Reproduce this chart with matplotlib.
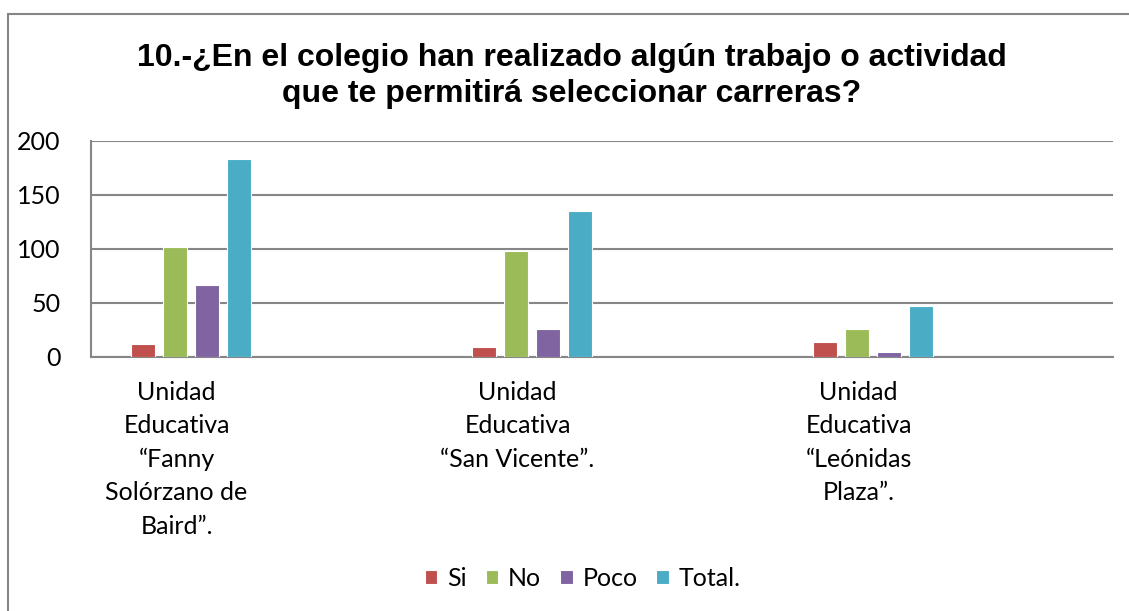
import numpy as np
import matplotlib.pyplot as plt
from matplotlib.patches import Rectangle

# data
categories = ['Unidad\nEducativa\n“Fanny\nSolórzano de\nBaird”.',
              'Unidad\nEducativa\n“San Vicente”.',
              'Unidad\nEducativa\n“Leónidas\nPlaza”.']
series_names = ['Si', 'No', 'Poco', 'Total.']
si = [12, 9, 14]
no = [102, 98, 26]
poco = [67, 26, 5]
total = [183, 135, 47]
colors = ['#C0504D', '#9BBB59', '#8064A2', '#4BACC6']

title = '10.-¿En el colegio han realizado algún trabajo o actividad\nque te permitirá seleccionar carreras?'

plt.rcParams['font.family'] = ['Lato', 'DejaVu Sans']

fig = plt.figure(figsize=(11.29, 6.11), dpi=100)
ax = fig.add_axes([91 / 1129, 1 - 357 / 611, (1113 - 91) / 1129, (357 - 141) / 611])

x = np.arange(len(categories))
step = 0.094
width = 0.070
for i, (vals, name) in enumerate(zip([si, no, poco, total], series_names)):
    ax.bar(x + (i - 1.5) * step, vals, width, color=colors[i], label=name,
           edgecolor='white', linewidth=0.8, zorder=3)

ax.set_xlim(-0.293, 2.704)
ax.set_ylim(0, 200)
ax.set_yticks([0, 50, 100, 150, 200])
ax.grid(axis='y', color='#868686', linewidth=1.5, zorder=0)
ax.tick_params(axis='y', length=0, pad=22, labelsize=18)
ax.tick_params(axis='x', length=0, pad=17, labelsize=18)
ax.set_xticks(x - 0.042)
ax.set_xticklabels(categories, linespacing=1.55, va='top', ha='center')

for s in ['top', 'right']:
    ax.spines[s].set_visible(False)
for s in ['left', 'bottom']:
    ax.spines[s].set_color('#868686')
    ax.spines[s].set_linewidth(1.5)

fig.text(572 / 1129, 1 - 76 / 611, title, ha='center', va='center',
         fontsize=23, fontweight='bold', family='Liberation Sans', linespacing=1.3)

fig.legend(loc='center', bbox_to_anchor=(583 / 1129, 1 - 578 / 611), ncol=4,
           frameon=False, fontsize=18, handlelength=0.5, handleheight=0.5,
           handletextpad=0.4, columnspacing=0.75)

# outer chart border (cut off at right and bottom in the reference)
fig.patches.append(Rectangle((8 / 1129, -0.1), 1.2, 1 - 14 / 611 + 0.1,
                             transform=fig.transFigure, fill=False,
                             edgecolor='#868686', linewidth=1.5))

fig.savefig('out.png', dpi=100)
